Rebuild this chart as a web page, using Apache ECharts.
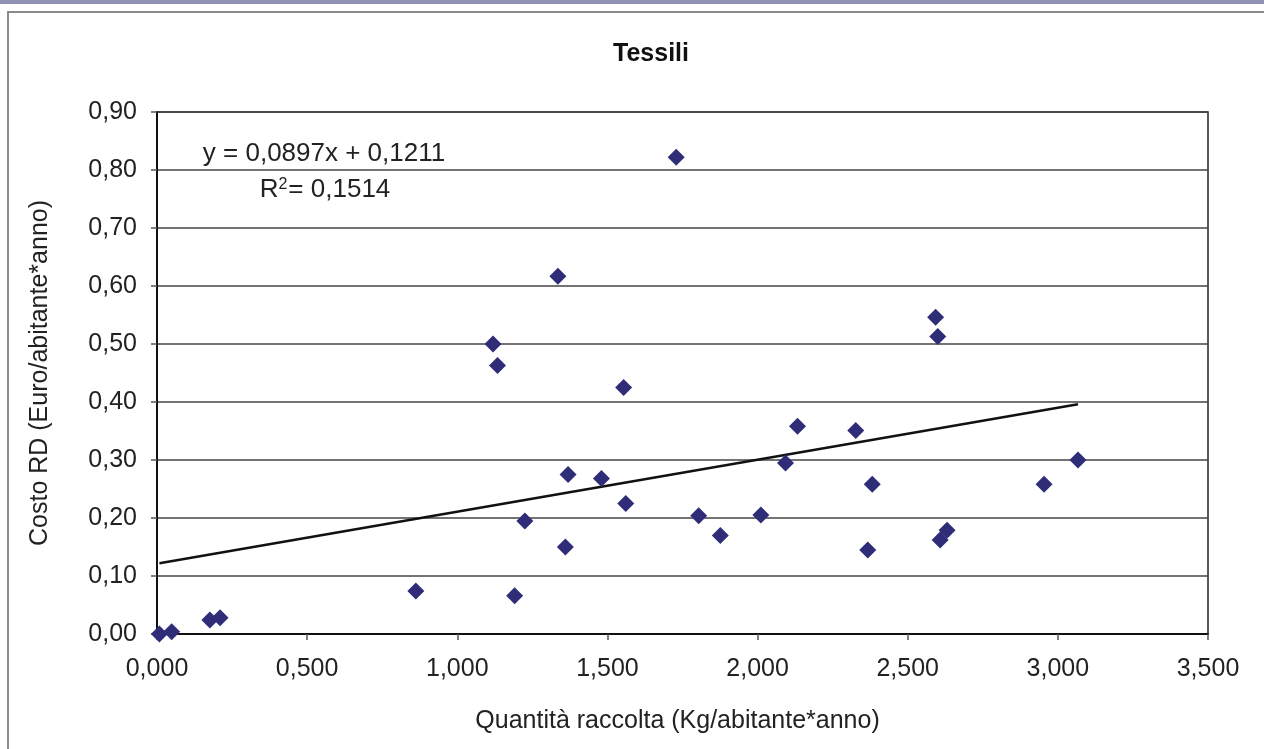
<!DOCTYPE html>
<html lang="it">
<head>
    <meta charset="UTF-8">
    <title>Tessili</title>
</head>
<body style="margin:0;background:#fff">
<div id="box" style="width:1264px;height:749px;"></div>
<script src="https://cdn.jsdelivr.net/npm/echarts@6/dist/echarts.min.js"></script>
<script type="text/javascript">
    // quantità raccolta (kg/abitante*anno)
    let quantita=[0.008,0.049,0.176,0.210,0.862,1.119,1.134,1.191,1.225,1.335,
        1.360,1.369,1.480,1.554,1.561,1.729,1.804,1.876,2.011,2.093,
        2.133,2.327,2.367,2.382,2.593,2.600,2.608,2.631,2.954,3.067];
    // costo RD (euro/abitante*anno)
    let costo=[0.000,0.004,0.024,0.028,0.074,0.500,0.463,0.066,0.195,0.617,
        0.150,0.275,0.268,0.425,0.225,0.822,0.204,0.170,0.205,0.295,
        0.358,0.351,0.145,0.258,0.546,0.513,0.162,0.179,0.258,0.300];
    let yTicks=[0,0.1,0.2,0.3,0.4,0.5,0.6,0.7,0.8,0.9];
    let xTicks=[0,0.5,1,1.5,2,2.5,3,3.5];
    // linea di tendenza
    let slope=0.0897;
    let intercept=0.1211;
    let r2=0.1514;

    let font='"Liberation Sans", Arial, sans-serif';
    let chart=echarts.init(document.getElementById('box'));

    let xMin=Math.min(...quantita);
    let xMax=Math.max(...quantita);
    let comma=(v,d)=>v.toFixed(d).replace('.',',');

    let option={
        animation:false,
        backgroundColor:'#fff',
        title:{
            text:'Tessili',
            left:646,
            top:37,
            textAlign:'center',
            textStyle:{fontFamily:font,fontSize:25,fontWeight:'bold',color:'#111'}
        },
        grid:{
            left:157,right:56,top:112,bottom:115,
            show:true,borderColor:'#222',borderWidth:1.5
        },
        xAxis:{
            type:'value',
            min:xTicks[0],max:xTicks[xTicks.length-1],interval:0.5,
            name:'Quantità raccolta (Kg/abitante*anno)',
            nameLocation:'middle',nameGap:75,
            nameTextStyle:{fontFamily:font,fontSize:25,color:'#222',padding:[0,10,0,0]},
            axisLine:{lineStyle:{color:'#111',width:2}},
            axisTick:{show:true,length:6,lineStyle:{color:'#555',width:1.5}},
            axisLabel:{fontFamily:font,fontSize:25,color:'#222',margin:23,
                formatter:v=>comma(v,3)},
            splitLine:{show:false}
        },
        yAxis:{
            type:'value',
            min:yTicks[0],max:yTicks[yTicks.length-1],interval:0.1,
            name:'Costo RD (Euro/abitante*anno)',
            nameLocation:'middle',nameGap:104,
            nameTextStyle:{fontFamily:font,fontSize:25,color:'#222'},
            axisLine:{show:true,lineStyle:{color:'#111',width:2}},
            axisTick:{show:true,length:6,lineStyle:{color:'#555',width:1.5}},
            axisLabel:{fontFamily:font,fontSize:25,color:'#222',margin:20,
                formatter:v=>comma(v,2)},
            splitLine:{show:true,lineStyle:{color:'#444',width:1.5}}
        },
        graphic:[
            {type:'rect',shape:{x:0,y:0,width:1264,height:4},style:{fill:'#8f91b5'},silent:true},
            {type:'rect',shape:{x:8,y:12,width:1400,height:900},
                style:{fill:null,stroke:'#8a8a8a',lineWidth:2},silent:true,z:-1},
            {type:'text',x:324,y:154,
                style:{text:'y = '+comma(slope,4)+'x + '+comma(intercept,4),
                    font:'26px '+font,fill:'#222',align:'center',verticalAlign:'middle'},z:100},
            {type:'text',x:325,y:190,
                style:{text:'R{sup|2}= '+comma(r2,4),
                    font:'26px '+font,fill:'#222',align:'center',verticalAlign:'middle',
                    rich:{sup:{fontSize:16,verticalAlign:'top',padding:[0,1,10,0],fontFamily:font,fill:'#222'}}},z:100}
        ],
        series:[
            {
                name:'trend',
                type:'line',
                data:[[xMin,slope*xMin+intercept],[xMax,slope*xMax+intercept]],
                symbol:'none',
                lineStyle:{color:'#111',width:2.5},
                z:2
            },
            {
                name:'Tessili',
                type:'scatter',
                data:quantita.map((q,i)=>[q,costo[i]]),
                symbol:'diamond',
                symbolSize:17,
                itemStyle:{color:'#2f2d78',opacity:1},
                z:3
            }
        ]
    };
    chart.setOption(option);
</script>
</body>
</html>
